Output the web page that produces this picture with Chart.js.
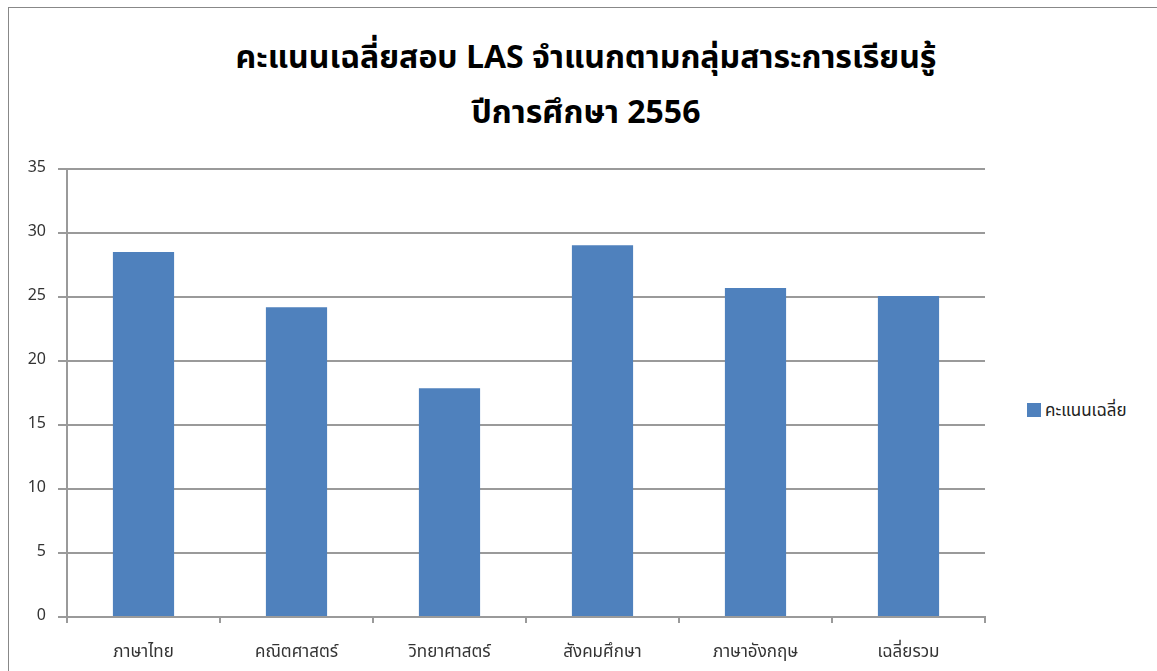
<!DOCTYPE html>
<html>
<head>
<meta charset="utf-8">
<script src="https://cdn.jsdelivr.net/npm/chart.js@4/dist/chart.umd.min.js"></script>
<style>
    html, body { margin: 0; padding: 0; background: #fff; overflow: hidden; }
    body { width: 1157px; height: 671px; position: relative; font-family: Tahoma, "Noto Sans Thai", "Noto Sans", sans-serif; }
    .frame { position: absolute; left: 8px; top: 7px; width: 1200px; height: 700px; border-left: 1px solid #888; border-top: 1px solid #888; }
    .title { position: absolute; left: 0; top: 31px; width: 1172px; text-align: center; font-size: 32px; font-weight: bold; line-height: 55px; color: #000; }
    .legend { position: absolute; left: 1027px; top: 398px; font-size: 17px; color: #222; line-height: 26px; }
    .legend span { display: inline-block; width: 14px; height: 14px; background: #4F81BD; vertical-align: -1px; margin-right: 4px; }
    #chart { position: absolute; left: 0; top: 0; }
</style>
</head>
<body>
<div class="frame"></div>
<div class="title">คะแนนเฉลี่ยสอบ LAS จำแนกตามกลุ่มสาระการเรียนรู้<br>ปีการศึกษา 2556</div>
<div class="legend"><span></span>คะแนนเฉลี่ย</div>
<canvas id="chart" width="1157" height="671"></canvas>
<script>
const categories = ['ภาษาไทย', 'คณิตศาสตร์', 'วิทยาศาสตร์', 'สังคมศึกษา', 'ภาษาอังกฤษ', 'เฉลี่ยรวม'];
const scores = [28.52, 24.2, 17.87, 29.04, 25.7, 25.08];
const seriesName = 'คะแนนเฉลี่ย';
const yTicks = [0, 5, 10, 15, 20, 25, 30, 35];

const fontFamily = 'Tahoma, "Noto Sans Thai", "Noto Sans", sans-serif';
const gridColor = '#9a9a9a';

const ctx = document.getElementById('chart').getContext('2d');
new Chart(ctx, {
    type: 'bar',
    data: {
        labels: categories,
        datasets: [{
            label: seriesName,
            data: scores,
            backgroundColor: '#4F81BD',
            borderWidth: 0,
            categoryPercentage: 1,
            barPercentage: 0.4
        }]
    },
    options: {
        responsive: false,
        animation: false,
        layout: { padding: { left: 17, top: 169, right: 172, bottom: 0 } },
        plugins: {
            legend: { display: false },
            title: { display: false },
            tooltip: { enabled: false }
        },
        scales: {
            y: {
                min: 0,
                max: 35,
                afterBuildTicks: (scale) => { scale.ticks = yTicks.map(v => ({ value: v })); },
                afterFit: (scale) => { scale.width = 50; },
                border: { color: gridColor, width: 2 },
                grid: { color: gridColor, lineWidth: 2, tickLength: 9 },
                ticks: { padding: 12, color: '#333', font: { family: fontFamily, size: 16 } }
            },
            x: {
                afterFit: (scale) => { scale.height = 671 - 617; },
                border: { color: gridColor, width: 2 },
                grid: { color: gridColor, lineWidth: 2, drawOnChartArea: false, tickLength: 6, offset: true },
                ticks: { padding: 20, color: '#333', font: { family: fontFamily, size: 17 } }
            }
        }
    }
});
</script>
</body>
</html>
